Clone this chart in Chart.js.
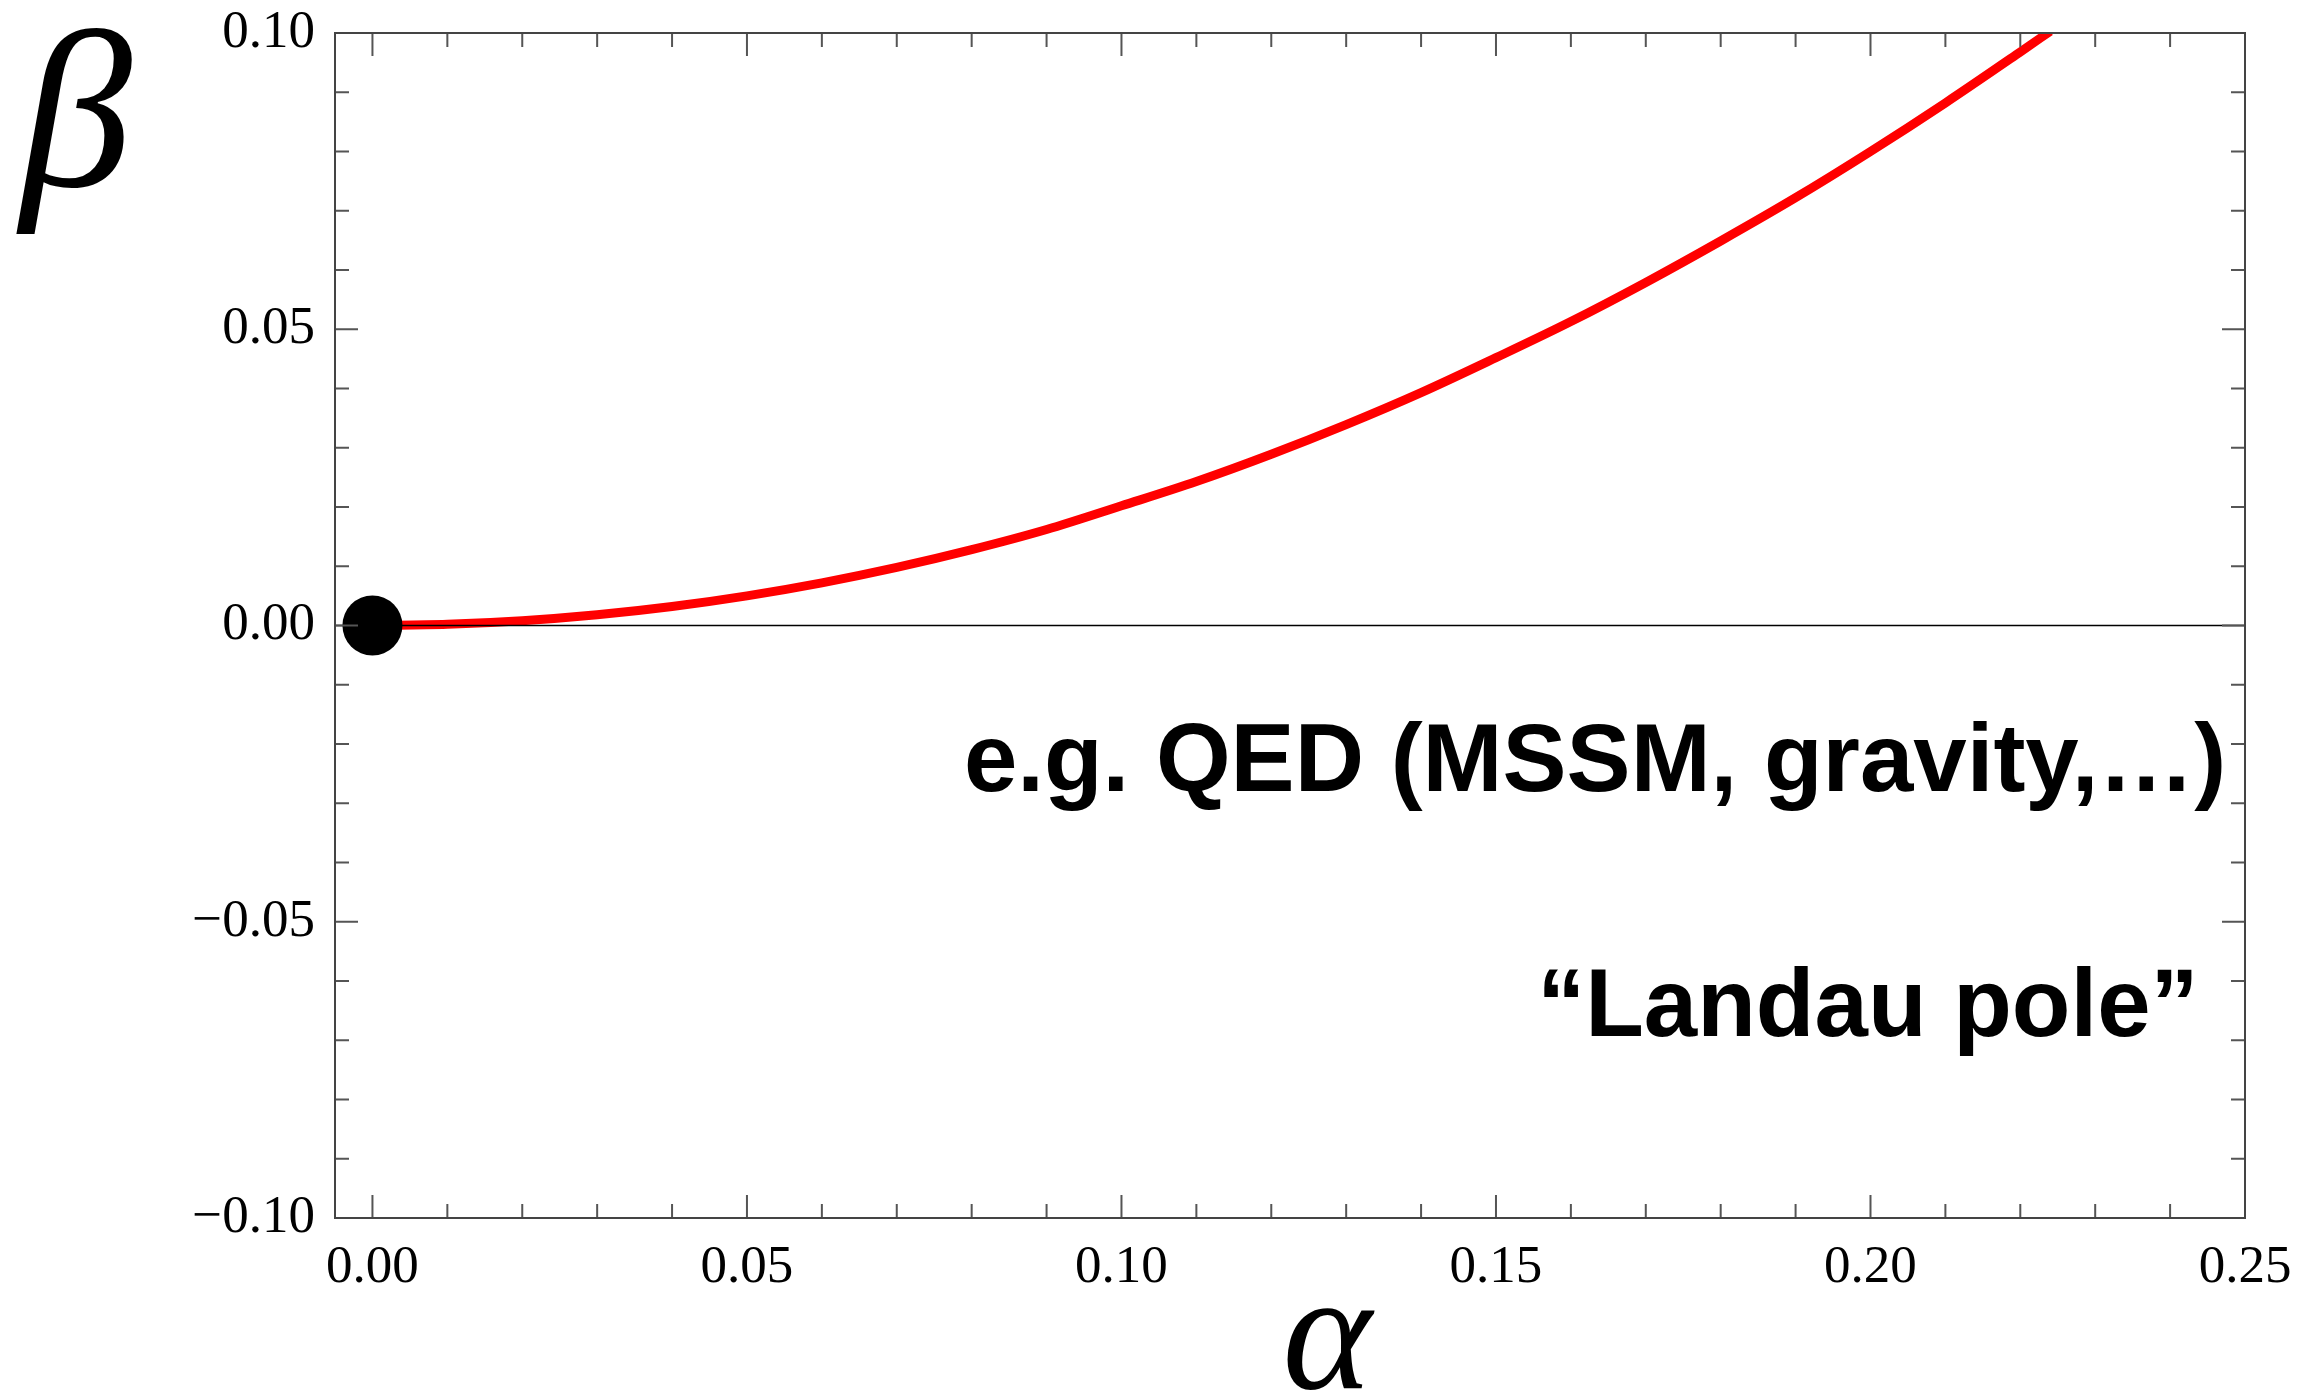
<!DOCTYPE html>
<html>
<head>
<meta charset="utf-8">
<script src="https://cdn.jsdelivr.net/npm/chart.js@4/dist/chart.umd.min.js"></script>
<style>
  html, body { margin: 0; padding: 0; background: #fff; }
  #wrap { width: 2307px; height: 1395px; position: relative; }
</style>
</head>
<body>
<div id="wrap"><canvas id="betaChart"></canvas></div>
<script>
// values
const alphaVals = [0, 0.01, 0.02, 0.03, 0.04, 0.05, 0.06, 0.07, 0.08, 0.09, 0.10, 0.11,
  0.12, 0.13, 0.14, 0.15, 0.16, 0.17, 0.18, 0.19, 0.20, 0.21, 0.22, 0.224];
const betaVals = [0, 0.0002, 0.0008, 0.0018, 0.0032, 0.005, 0.0072, 0.0098, 0.0128, 0.0162, 0.0202, 0.0243,
  0.0289, 0.0339, 0.0393, 0.0452, 0.0513, 0.0579, 0.0649, 0.0722, 0.0800, 0.0882, 0.0968, 0.1003];
const fixedPoint = [{ x: 0, y: 0 }];

const xTickVals = [0, 0.05, 0.10, 0.15, 0.20, 0.25];
const yTickVals = [-0.10, -0.05, 0, 0.05, 0.10];

const labelQED = 'e.g. QED (MSSM, gravity,\u2026)';
const labelLandau = '\u201CLandau pole\u201D';

const fmt = (v) => (v < -1e-9 ? '\u2212' : '') + Math.abs(v).toFixed(2);

// frame, inward ticks, zero line and text labels
const framePlugin = {
  id: 'frame',
  afterDatasetsDraw(chart) {
    const { ctx, chartArea: a, scales: { x, y } } = chart;
    ctx.save();

    // zero line
    ctx.strokeStyle = '#000';
    ctx.lineWidth = 1.5;
    const y0 = y.getPixelForValue(0);
    ctx.beginPath();
    ctx.moveTo(a.left, y0);
    ctx.lineTo(a.right, y0);
    ctx.stroke();

    // ticks
    ctx.strokeStyle = '#555';
    ctx.lineWidth = 2;
    ctx.beginPath();
    for (let i = 0; i <= 25; i++) {
      const px = x.getPixelForValue(i / 100);
      const len = i % 5 === 0 ? 23 : 14;
      ctx.moveTo(px, a.bottom); ctx.lineTo(px, a.bottom - len);
      ctx.moveTo(px, a.top); ctx.lineTo(px, a.top + len);
    }
    for (let i = -10; i <= 10; i++) {
      const py = y.getPixelForValue(i / 100);
      const len = i % 5 === 0 ? 23 : 14;
      ctx.moveTo(a.left, py); ctx.lineTo(a.left + len, py);
      ctx.moveTo(a.right, py); ctx.lineTo(a.right - len, py);
    }
    ctx.stroke();

    // frame
    ctx.strokeStyle = '#444';
    ctx.lineWidth = 2;
    ctx.strokeRect(a.left, a.top, a.right - a.left, a.bottom - a.top);

    // annotations
    ctx.fillStyle = '#000';
    ctx.textAlign = 'right';
    ctx.textBaseline = 'alphabetic';
    ctx.font = 'bold 96px "Liberation Sans", Arial, sans-serif';
    ctx.fillText(labelQED, x.getPixelForValue(0.2475), y.getPixelForValue(-0.0280));
    ctx.fillText(labelLandau, x.getPixelForValue(0.2438), y.getPixelForValue(-0.0692));

    // axis symbols
    ctx.font = 'italic 225px "Liberation Serif", "DejaVu Serif", serif';
    ctx.textAlign = 'left';
    ctx.fillText('\u03B2', 20, 186);
    ctx.font = 'italic 170px "Liberation Serif", "DejaVu Serif", serif';
    ctx.textAlign = 'center';
    ctx.fillText('\u03B1', 1327, 1388);

    ctx.restore();
  }
};

document.addEventListener('DOMContentLoaded', () => {
  const ctx = document.getElementById('betaChart');
  const tickFont = { family: '"Liberation Serif", "Times New Roman", serif', size: 53 };

  new Chart(ctx, {
    type: 'line',
    data: {
      datasets: [
        {
          type: 'scatter',
          data: fixedPoint,
          pointRadius: 30,
          pointBackgroundColor: '#000',
          pointBorderWidth: 0,
        },
        {
          data: alphaVals.map((a, i) => ({ x: a, y: betaVals[i] })),
          borderColor: '#ff0000',
          borderWidth: 9,
          pointRadius: 0,
          cubicInterpolationMode: 'monotone',
          fill: false,
        },
      ],
    },
    options: {
      animation: false,
      responsive: true,
      maintainAspectRatio: false,
      devicePixelRatio: 1,
      layout: { padding: { top: 33, right: 62, left: 0, bottom: 0 } },
      plugins: { legend: { display: false }, tooltip: { enabled: false } },
      scales: {
        x: {
          type: 'linear',
          min: -0.005,
          max: 0.25,
          grid: { display: false },
          border: { display: false },
          afterBuildTicks: (s) => { s.ticks = xTickVals.map((v) => ({ value: v })); },
          afterFit: (s) => { s.height = 177; s.paddingLeft = 0; s.paddingRight = 0; },
          ticks: { font: tickFont, color: '#000', padding: 10, maxRotation: 0, callback: (v) => fmt(v) },
        },
        y: {
          type: 'linear',
          min: -0.1,
          max: 0.1,
          grid: { display: false },
          border: { display: false },
          afterBuildTicks: (s) => { s.ticks = yTickVals.map((v) => ({ value: v })); },
          afterFit: (s) => { s.width = 335; s.paddingTop = 0; s.paddingBottom = 0; },
          ticks: { font: tickFont, color: '#000', padding: 12, callback: (v) => fmt(v) },
        },
      },
    },
    plugins: [framePlugin],
  });
});
</script>
</body>
</html>
